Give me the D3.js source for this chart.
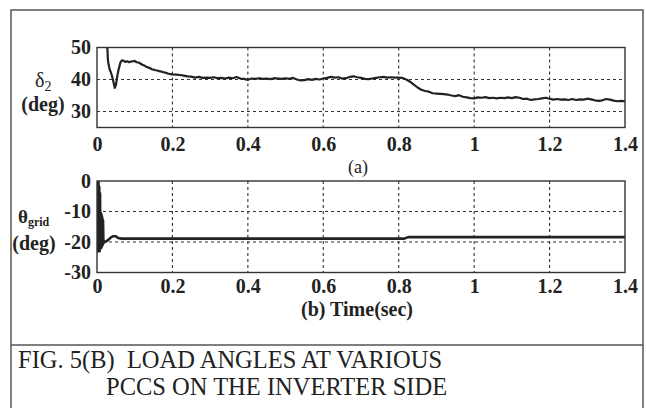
<!DOCTYPE html>
<html lang="en">
<head>
<meta charset="UTF-8">
<title>Fig. 5(B) Load angles</title>
<script src="https://d3js.org/d3.v7.min.js"></script>
<style>
  body { margin: 0; background: #fff; }
  svg { display: block; font-family: "Liberation Serif", "Times New Roman", serif; }
</style>
</head>
<body>
<svg width="646" height="408"></svg>
<script>
// ---- data ----
const timeTicks = [0, 0.2, 0.4, 0.6, 0.8, 1, 1.2, 1.4];
const deltaTicks = [30, 40, 50];
const thetaTicks = [-30, -20, -10, 0];

// (a) delta_2 in deg vs time in sec
const delta2 = [
  [0.027, 51], [0.029, 46], [0.031, 44.5], [0.034, 43], [0.037, 42.2], [0.040, 41],
  [0.043, 39.5], [0.047, 37.4], [0.050, 38.2], [0.053, 40.5], [0.057, 43], [0.062, 45.3],
  [0.066, 46.0], [0.070, 45.9], [0.075, 45.5], [0.080, 45.7], [0.085, 45.4], [0.090, 45.6],
  [0.095, 45.7], [0.100, 45.8], [0.105, 45.4], [0.110, 45.3], [0.115, 45.0], [0.120, 44.6],
  [0.125, 44.4], [0.130, 44.0], [0.135, 43.8], [0.140, 43.6], [0.145, 43.2], [0.150, 43.1],
  [0.155, 42.9], [0.160, 42.8], [0.165, 42.6], [0.170, 42.5], [0.175, 42.3], [0.180, 42.2],
  [0.185, 42.0], [0.190, 41.8], [0.195, 41.7], [0.200, 41.6], [0.21, 41.5], [0.22, 41.4],
  [0.23, 41.2], [0.24, 41.0], [0.25, 40.9], [0.26, 40.6], [0.27, 40.8], [0.28, 40.5],
  [0.29, 40.6], [0.30, 40.5], [0.31, 40.7], [0.32, 40.4], [0.33, 40.5], [0.34, 40.3],
  [0.35, 40.6], [0.36, 40.4], [0.37, 40.8], [0.38, 40.3], [0.39, 40.2], [0.40, 39.9],
  [0.41, 40.3], [0.42, 40.2], [0.43, 40.4], [0.44, 40.2], [0.45, 40.3], [0.46, 40.1],
  [0.47, 40.4], [0.48, 40.3], [0.49, 40.2], [0.50, 40.4], [0.51, 40.2], [0.52, 40.5],
  [0.53, 40.0], [0.54, 39.7], [0.55, 39.8], [0.56, 40.1], [0.57, 39.9], [0.58, 40.2],
  [0.59, 40.0], [0.60, 40.3], [0.61, 40.5], [0.62, 40.8], [0.63, 40.6], [0.64, 40.7],
  [0.65, 40.3], [0.66, 40.4], [0.67, 40.8], [0.68, 41.0], [0.69, 40.7], [0.70, 40.5],
  [0.71, 40.2], [0.72, 40.1], [0.73, 40.3], [0.74, 40.5], [0.75, 40.7], [0.76, 40.8],
  [0.77, 40.6], [0.78, 40.7], [0.79, 40.6], [0.80, 40.6], [0.81, 40.5], [0.82, 40.0],
  [0.83, 39.3], [0.84, 38.4], [0.85, 37.5], [0.86, 36.8], [0.87, 36.4], [0.88, 36.2],
  [0.89, 35.7], [0.90, 35.6], [0.91, 35.5], [0.92, 35.4], [0.93, 35.3], [0.94, 35.0],
  [0.95, 34.8], [0.96, 35.1], [0.97, 34.6], [0.98, 34.4], [0.99, 34.2], [1.00, 34.1],
  [1.01, 34.4], [1.02, 34.3], [1.03, 34.5], [1.04, 34.2], [1.05, 34.3], [1.06, 34.1],
  [1.07, 34.3], [1.08, 34.2], [1.09, 34.4], [1.10, 34.2], [1.11, 34.5], [1.12, 34.3],
  [1.13, 33.9], [1.14, 34.0], [1.15, 33.6], [1.16, 33.8], [1.17, 33.9], [1.18, 34.1],
  [1.19, 34.3], [1.20, 34.0], [1.21, 33.7], [1.22, 33.9], [1.23, 33.7], [1.24, 33.8],
  [1.25, 33.6], [1.26, 33.9], [1.27, 33.6], [1.28, 33.8], [1.29, 33.7], [1.30, 34.0],
  [1.31, 33.8], [1.32, 33.5], [1.33, 33.3], [1.34, 33.5], [1.35, 33.9], [1.36, 33.7],
  [1.37, 33.4], [1.38, 33.2], [1.39, 33.3], [1.40, 33.2]
];

// (b) theta_grid in deg vs time in sec
const thetaGrid = [
  [0, 0], [0.001, -23], [0.002, -1], [0.003, -23], [0.004, 0], [0.005, -22],
  [0.006, -2], [0.007, -23], [0.008, -4], [0.009, -22], [0.010, -10.5], [0.011, -22],
  [0.012, -11], [0.013, -21.5], [0.014, -12], [0.015, -21], [0.016, -13], [0.017, -20.5],
  [0.019, -20], [0.024, -19.8], [0.030, -19.3], [0.036, -18.6], [0.042, -18.1], [0.050, -18.1],
  [0.056, -18.7], [0.065, -18.9], [0.3, -18.9], [0.6, -18.9], [0.815, -18.9], [0.825, -18.4],
  [1.4, -18.4]
];

const captionLines = ["FIG. 5(B)  LOAD ANGLES AT VARIOUS", "PCCS ON THE INVERTER SIDE"];

// ---- drawing ----
const svg = d3.select("svg");
const ink = "#222";

// outer frame and divider above the caption
svg.append("rect")
  .attr("x", 11).attr("y", 10).attr("width", 632).attr("height", 430)
  .attr("fill", "none").attr("stroke", "#555").attr("stroke-width", 1.5);
svg.append("line")
  .attr("x1", 11).attr("x2", 643).attr("y1", 345).attr("y2", 345)
  .attr("stroke", "#555").attr("stroke-width", 1.5);

const x = d3.scaleLinear().domain([0, 1.4]).range([97, 625]);
const fmt = d => String(d); // plain hyphen for negatives, like the original

function panel(id, top, bottom, domain, yTicks, data, lineWidth, xPad) {
  const y = d3.scaleLinear().domain(domain).range([bottom, top]);
  const g = svg.append("g");

  // dashed grid
  g.selectAll(".vgrid")
    .data(timeTicks.filter(t => t > 0 && t < 1.4))
    .join("line")
      .attr("x1", d => x(d)).attr("x2", d => x(d))
      .attr("y1", top).attr("y2", bottom)
      .attr("stroke", "#333").attr("stroke-width", 1.1)
      .attr("stroke-dasharray", "3,3");
  g.selectAll(".hgrid")
    .data(yTicks.filter(v => v > domain[0] && v < domain[1]))
    .join("line")
      .attr("x1", x(0)).attr("x2", x(1.4))
      .attr("y1", d => y(d)).attr("y2", d => y(d))
      .attr("stroke", "#333").attr("stroke-width", 1.1)
      .attr("stroke-dasharray", "3,3");

  g.append("clipPath").attr("id", id)
    .append("rect")
      .attr("x", x(0)).attr("y", top)
      .attr("width", x(1.4) - x(0)).attr("height", bottom - top);

  g.append("path")
    .datum(data)
    .attr("clip-path", `url(#${id})`)
    .attr("fill", "none")
    .attr("stroke", ink)
    .attr("stroke-width", lineWidth)
    .attr("stroke-linejoin", "round")
    .attr("d", d3.line().x(d => x(d[0])).y(d => y(d[1])));

  // plot box
  g.append("rect")
    .attr("x", x(0)).attr("y", top)
    .attr("width", x(1.4) - x(0)).attr("height", bottom - top)
    .attr("fill", "none").attr("stroke", "#333").attr("stroke-width", 1.4);

  const xAxis = g.append("g")
    .attr("transform", `translate(0,${bottom})`)
    .call(d3.axisBottom(x).tickValues(timeTicks).tickSize(0).tickPadding(xPad).tickFormat(fmt));
  const yAxis = g.append("g")
    .attr("transform", `translate(${x(0)},0)`)
    .call(d3.axisLeft(y).tickValues(yTicks).tickSize(0).tickPadding(6).tickFormat(fmt));

  [xAxis, yAxis].forEach(a => {
    a.select(".domain").remove();
    a.attr("font-family", null).attr("font-size", null);
    a.selectAll("text")
      .attr("fill", ink)
      .style("font-size", "20px")
      .style("font-weight", "bold");
  });
  return y;
}

panel("clipA", 47.5, 127.5, [25, 50], deltaTicks, delta2, 2.2, 9);
panel("clipB", 181, 272.5, [-30, 0], thetaTicks, thetaGrid, 2.6, 6.5);

// axis titles
const d2 = svg.append("text").attr("x", 35).attr("y", 87).attr("fill", ink).style("font-size", "20px");
d2.append("tspan").text("δ");
d2.append("tspan").attr("dy", 4).style("font-size", "14px").text("2");
svg.append("text").attr("x", 43).attr("y", 111).attr("text-anchor", "middle")
  .attr("fill", ink).style("font-size", "20px").style("font-weight", "bold").text("(deg)");

const th = svg.append("text").attr("x", 18).attr("y", 223).attr("fill", ink)
  .style("font-size", "19px").style("font-weight", "bold");
th.append("tspan").text("θ");
th.append("tspan").attr("dy", 3).style("font-size", "12px").text("grid");
svg.append("text").attr("x", 34).attr("y", 250).attr("text-anchor", "middle")
  .attr("fill", ink).style("font-size", "20px").style("font-weight", "bold").text("(deg)");

svg.append("text").attr("x", 358).attr("y", 173).attr("text-anchor", "middle")
  .attr("fill", ink).style("font-size", "18px").text("(a)");
svg.append("text").attr("x", 357).attr("y", 316).attr("text-anchor", "middle")
  .attr("fill", ink).style("font-size", "20px").style("font-weight", "bold").text("(b) Time(sec)");

// caption
svg.selectAll(".caption")
  .data(captionLines)
  .join("text")
    .attr("class", "caption")
    .attr("x", (d, i) => i === 0 ? 18 : 106)
    .attr("y", (d, i) => 368 + i * 27)
    .attr("fill", ink)
    .style("font-size", "24.5px")
    .style("white-space", "pre")
    .text(d => d);
</script>
</body>
</html>
